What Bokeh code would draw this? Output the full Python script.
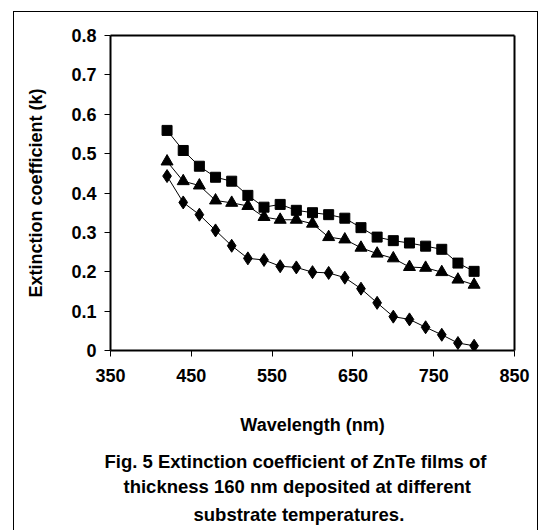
from bokeh.plotting import figure
from bokeh.models import Range1d, FixedTicker, Title, LinearAxis
from bokeh.embed import file_html
from bokeh.resources import INLINE

# ---- data ----
wavelength = [420, 440, 460, 480, 500, 520, 540, 560, 580, 600,
              620, 640, 660, 680, 700, 720, 740, 760, 780, 800]
k_square = [0.559, 0.508, 0.468, 0.440, 0.430, 0.394, 0.364, 0.371, 0.356, 0.350,
            0.345, 0.336, 0.312, 0.288, 0.279, 0.273, 0.265, 0.257, 0.222, 0.201]
k_triangle = [0.480, 0.430, 0.419, 0.381, 0.375, 0.367, 0.339, 0.332, 0.332, 0.322,
              0.288, 0.282, 0.261, 0.246, 0.234, 0.212, 0.210, 0.199, 0.180, 0.167]
k_diamond = [0.443, 0.376, 0.345, 0.305, 0.266, 0.234, 0.230, 0.214, 0.211, 0.199,
             0.197, 0.185, 0.157, 0.121, 0.086, 0.079, 0.059, 0.040, 0.019, 0.012]

x_ticks = [350, 450, 550, 650, 750, 850]
y_ticks = [0, 0.1, 0.2, 0.3, 0.4, 0.5, 0.6, 0.7, 0.8]
y_tick_labels = ["0", "0.1", "0.2", "0.3", "0.4", "0.5", "0.6", "0.7", "0.8"]

x_label = "Wavelength (nm)"
y_label = "Extinction coefficient (k)"
caption = ["Fig. 5 Extinction coefficient of ZnTe films of",
           "thickness 160 nm deposited at different",
           "substrate temperatures."]

FONT = "Liberation Sans, Arial, sans-serif"

p = figure(width=525, height=519, output_backend="svg", toolbar_location=None,
           x_range=Range1d(350, 850), y_range=Range1d(0, 0.8),
           min_border_left=96, min_border_right=25, min_border_top=23,
           min_border_bottom=181,
           styles={"margin-left": "13px", "margin-top": "11px",
                   "border-left": "1px solid black",
                   "border-top": "1px solid black",
                   "border-right": "1px solid black"})
p.background_fill_color = "white"
p.border_fill_color = "white"
p.grid.visible = False
p.outline_line_color = None

for ax in (p.xaxis[0], p.yaxis[0]):
    ax.axis_line_width = 2
    ax.axis_line_color = "black"
    ax.major_tick_in = 0
    ax.major_tick_out = 6
    ax.major_tick_line_width = 1
    ax.minor_tick_line_color = None
    ax.major_label_text_font = FONT
    ax.major_label_text_font_style = "bold"
    ax.major_label_text_font_size = "18px"
    ax.major_label_text_color = "black"
    ax.axis_label_text_font = FONT
    ax.axis_label_text_font_style = "bold"
    ax.axis_label_text_font_size = "18px"
    ax.axis_label_text_color = "black"

p.xaxis.ticker = FixedTicker(ticks=x_ticks)
p.yaxis.ticker = FixedTicker(ticks=y_ticks)
p.yaxis.major_label_overrides = dict(zip(y_ticks, y_tick_labels))
p.xaxis.major_label_standoff = 12
p.yaxis.major_label_standoff = 8
p.xaxis.axis_label = x_label
p.yaxis.axis_label = y_label
p.xaxis.axis_label_standoff = 30
p.yaxis.axis_label_standoff = 22

# frame top and right edges drawn as bare axes
for side in ("above", "right"):
    a = LinearAxis(ticker=FixedTicker(ticks=[]), axis_line_width=2,
                   axis_line_color="black", major_tick_line_color=None,
                   minor_tick_line_color=None, major_label_text_font_size="0px",
                   major_label_standoff=0)
    p.add_layout(a, side)

for ys, marker, size in ((k_square, "square", 10), (k_triangle, "triangle", 12),
                         (k_diamond, "diamond", 13)):
    p.line(wavelength, ys, line_color="black", line_width=1)
    p.scatter(wavelength, ys, marker=marker, size=size,
              fill_color="black", line_color="black")

# small spacer between axis label and caption
p.add_layout(Title(text=" ", text_font_size="1px", standoff=6), "below")

cap_offsets = [-6, 13, 83]
cap_standoffs = [4, 1, 8]
for line, off, so in zip(caption, cap_offsets, cap_standoffs):
    t = Title(text=line, align="left", offset=off,
              text_font=FONT, text_font_style="bold",
              text_font_size="18.5px", text_color="black",
              standoff=so)
    p.add_layout(t, "below")

open("out.html", "w").write(file_html(p, INLINE))
